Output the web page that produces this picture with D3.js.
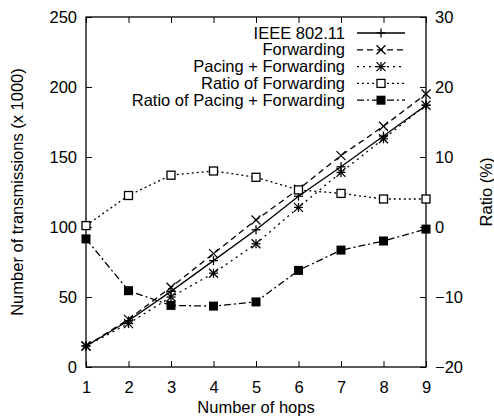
<!DOCTYPE html>
<html>
<head>
<meta charset="utf-8">
<script src="https://cdn.jsdelivr.net/npm/d3@7"></script>
<style>
  body { margin: 0; background: #fff; }
  svg { display: block; }
</style>
</head>
<body>
<svg></svg>
<script>
// gnuplot style line chart, two y axes

const WIDTH = 494;
const HEIGHT = 420;
const LEFT = 86;
const RIGHT = 426;
const TOP = 17;
const BOTTOM = 367;
const FONT = '16.5px';

const hops = [1, 2, 3, 4, 5, 6, 7, 8, 9];
const ieee = [15, 33, 54, 76, 98, 122, 143, 165, 187];
const forwarding = [15, 34, 57, 81, 105, 127, 151, 172, 195];
const pacing = [15, 31, 50, 67, 88, 114, 139, 163, 187];
const ratioForwarding = [0.2, 4.5, 7.4, 8.0, 7.1, 5.3, 4.8, 4.0, 4.0];
const ratioPacing = [-1.7, -9.1, -11.2, -11.3, -10.7, -6.2, -3.3, -2.0, -0.3];

const leftTicks = [0, 50, 100, 150, 200, 250];
const rightTicks = [-20, -10, 0, 10, 20, 30];

const svg = d3.select('svg').
attr('width', WIDTH).
attr('height', HEIGHT).
attr('font-family', '"Liberation Sans", Arial, sans-serif');

const x = d3.scaleLinear().domain([1, 9]).range([LEFT, RIGHT]);
const yLeft = d3.scaleLinear().domain([0, 250]).range([BOTTOM, TOP]);
const yRight = d3.scaleLinear().domain([-20, 30]).range([BOTTOM, TOP]);

const TICK = 6;

// axes (ticks drawn inward like gnuplot)
const axisBottom = d3.axisBottom(x).tickValues(hops).tickSizeInner(-TICK).tickSizeOuter(0).tickPadding(TICK + 8);
const axisTop = d3.axisTop(x).tickValues(hops).tickSizeInner(-TICK).tickSizeOuter(0).tickFormat('');
const axisLeft = d3.axisLeft(yLeft).tickValues(leftTicks).tickSizeInner(-TICK).tickSizeOuter(0).tickPadding(TICK + 3);
const axisRight = d3.axisRight(yRight).tickValues(rightTicks).tickSizeInner(-TICK).tickSizeOuter(0).tickPadding(TICK + 3);

function styleAxis(g) {
  g.select('.domain').remove();
  g.selectAll('line').attr('stroke', '#000').attr('stroke-width', 1);
  g.selectAll('text').attr('fill', '#000').attr('font-size', FONT);
}

svg.append('g').attr('transform', `translate(0, ${BOTTOM})`).call(axisBottom).call(styleAxis);
svg.append('g').attr('transform', `translate(0, ${TOP})`).call(axisTop).call(styleAxis);
svg.append('g').attr('transform', `translate(${LEFT}, 0)`).call(axisLeft).call(styleAxis);
svg.append('g').attr('transform', `translate(${RIGHT}, 0)`).call(axisRight).call(styleAxis);

svg.append('rect').
attr('x', LEFT).
attr('y', TOP).
attr('width', RIGHT - LEFT).
attr('height', BOTTOM - TOP).
attr('fill', 'none').
attr('stroke', '#000').
attr('stroke-width', 1.3);

// axis titles
svg.append('text').
attr('x', (LEFT + RIGHT) / 2).
attr('y', 413).
attr('text-anchor', 'middle').
attr('font-size', FONT).
text('Number of hops');

svg.append('text').
attr('transform', `translate(23, ${(TOP + BOTTOM) / 2}) rotate(-90)`).
attr('text-anchor', 'middle').
attr('font-size', FONT).
text('Number of transmissions (x 1000)');

svg.append('text').
attr('transform', `translate(492, ${(TOP + BOTTOM) / 2}) rotate(-90)`).
attr('text-anchor', 'middle').
attr('font-size', FONT).
text('Ratio (%)');

// markers
const S = 4.5;
function drawMarker(g, type, cx, cy) {
  const m = g.append('g').attr('transform', `translate(${cx}, ${cy})`);
  const st = (sel) => sel.attr('stroke', '#000').attr('stroke-width', 1.3);
  if (type === 'plus' || type === 'star') {
    st(m.append('line').attr('x1', -S).attr('x2', S).attr('y1', 0).attr('y2', 0));
    st(m.append('line').attr('x1', 0).attr('x2', 0).attr('y1', -S).attr('y2', S));
  }
  if (type === 'cross' || type === 'star') {
    st(m.append('line').attr('x1', -S).attr('x2', S).attr('y1', -S).attr('y2', S));
    st(m.append('line').attr('x1', -S).attr('x2', S).attr('y1', S).attr('y2', -S));
  }
  if (type === 'box') {
    st(m.append('rect').attr('x', -S + 0.5).attr('y', -S + 0.5).attr('width', 2 * S - 1).attr('height', 2 * S - 1).attr('fill', '#fff'));
  }
  if (type === 'fbox') {
    m.append('rect').attr('x', -S).attr('y', -S).attr('width', 2 * S).attr('height', 2 * S).attr('fill', '#000');
  }
}

const series = [
  { name: 'IEEE 802.11', values: ieee, scale: yLeft, dash: null, marker: 'plus' },
  { name: 'Forwarding', values: forwarding, scale: yLeft, dash: '6,4', marker: 'cross' },
  { name: 'Pacing + Forwarding', values: pacing, scale: yLeft, dash: '2,4', marker: 'star' },
  { name: 'Ratio of Forwarding', values: ratioForwarding, scale: yRight, dash: '2,3', marker: 'box' },
  { name: 'Ratio of Pacing + Forwarding', values: ratioPacing, scale: yRight, dash: '7,3,2,3', marker: 'fbox' }
];

const plotG = svg.append('g');

series.forEach(s => {
  const line = d3.line().
  x((d, i) => x(hops[i])).
  y(d => s.scale(d));

  plotG.append('path').
  datum(s.values).
  attr('d', line).
  attr('fill', 'none').
  attr('stroke', '#000').
  attr('stroke-width', 1.3).
  attr('stroke-dasharray', s.dash);

  s.values.forEach((v, i) => drawMarker(plotG, s.marker, x(hops[i]), s.scale(v)));
});

// legend
const legendG = svg.append('g');
series.forEach((s, i) => {
  const ly = 33 + i * 16.8;
  legendG.append('text').
  attr('x', 345).
  attr('y', ly + 5.5).
  attr('text-anchor', 'end').
  attr('font-size', FONT).
  text(s.name);

  legendG.append('line').
  attr('x1', 357).
  attr('x2', 405).
  attr('y1', ly).
  attr('y2', ly).
  attr('stroke', '#000').
  attr('stroke-width', 1.3).
  attr('stroke-dasharray', s.dash);

  drawMarker(legendG, s.marker, 381, ly);
});
</script>
</body>
</html>
